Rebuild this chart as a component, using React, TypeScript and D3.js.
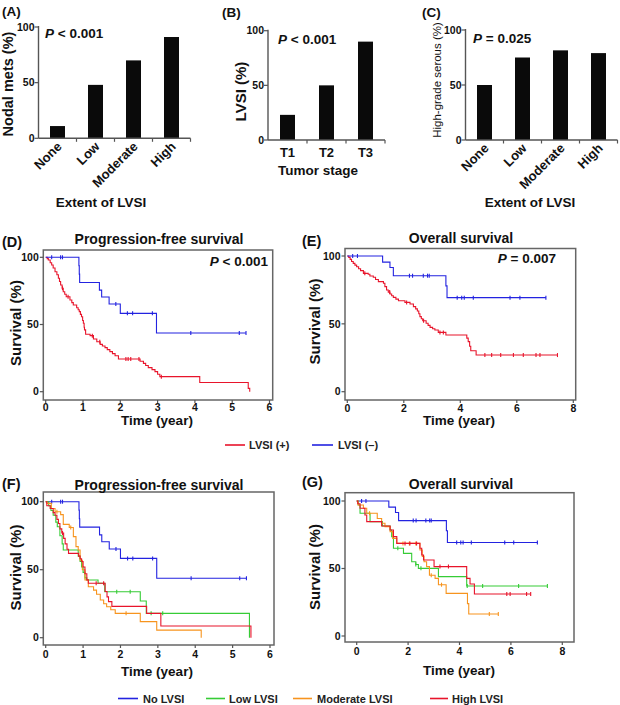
import React from "react";
import * as d3 from "d3";

const FONT = "'Liberation Sans', Arial, Helvetica, sans-serif";
const RED = "#e8142b";
const BLUE = "#2323e0";
const GREEN = "#36cc36";
const ORANGE = "#f7941e";
const AXIS = "#555";

// ---------- Bar panels ----------
const extentCategories = ["None", "Low", "Moderate", "High"];
const nodalMetsPct = [11, 48, 70, 91];
const stageCategories = ["T1", "T2", "T3"];
const lvsiByStagePct = [23, 50, 90];
const highGradeSerousPct = [50, 75, 81.5, 79];
const barYTicks = [0, 50, 100];

// ---------- Kaplan-Meier data: [time (year), survival % after step] ----------
type Step = [number, number];

const pfsLvsiNeg: Step[] = [[0, 100], [0.89, 93.8], [0.9, 87.5], [0.91, 81.3], [1.44, 75.6], [1.5, 70.5], [1.7, 65.2], [2.0, 58.3], [2.97, 43.7], [5.37, 43.7]];
const pfsLvsiNegCens = [0.16, 0.4, 0.45, 1.88, 2.19, 2.33, 2.86, 3.89, 5.19, 5.37];

const pfsLvsiPos: Step[] = [[0, 100], [0.04, 99], [0.07, 98], [0.12, 96], [0.16, 94.3], [0.2, 92], [0.25, 89.3], [0.3, 87], [0.34, 84.4], [0.37, 82], [0.4, 79.4], [0.44, 77], [0.47, 74.4], [0.51, 72.5], [0.55, 70.7], [0.65, 68.2], [0.7, 66.3], [0.74, 64.5], [0.83, 62.5], [0.87, 61], [0.9, 59.6], [0.93, 57.5], [0.96, 55.8], [0.99, 53], [1.01, 50.9], [1.03, 48], [1.04, 46], [1.07, 42.7], [1.19, 41.7], [1.28, 39.2], [1.37, 37.2], [1.46, 35.2], [1.52, 34], [1.59, 32.8], [1.65, 31.3], [1.72, 29.8], [1.79, 28.3], [1.86, 26.8], [1.95, 24.3], [2.53, 22.7], [2.62, 21.1], [2.68, 19.5], [2.75, 17.9], [2.85, 16.4], [2.93, 14.9], [3.0, 13], [3.06, 11.2], [4.13, 6.9], [5.43, 2.5], [5.47, 0]];
const pfsLvsiPosCens = [0.45, 0.6, 1.25, 1.45, 2.15, 2.21, 2.28, 2.5, 3.1];

const osLvsiNeg: Step[] = [[0, 100], [1.25, 95.5], [1.51, 91.5], [1.63, 85.5], [3.49, 78], [3.53, 69.3], [7.03, 69.3]];
const osLvsiNegCens = [0.19, 0.36, 2.2, 2.31, 2.69, 2.84, 2.9, 3.89, 4.05, 4.14, 4.46, 5.76, 6.11, 7.03];

const osLvsiPos: Step[] = [[0, 100], [0.05, 99], [0.1, 97.5], [0.15, 96], [0.21, 94.6], [0.27, 93.3], [0.33, 92.1], [0.4, 90.6], [0.47, 89.2], [0.57, 87.2], [0.74, 86.5], [0.8, 85.3], [0.92, 84.3], [1.0, 82.7], [1.1, 81.1], [1.28, 79.9], [1.33, 77.4], [1.39, 74.9], [1.45, 73.4], [1.51, 72], [1.57, 70.7], [1.63, 69.5], [1.72, 68.2], [1.81, 67], [2.04, 65.8], [2.22, 64.6], [2.34, 62.7], [2.42, 61], [2.48, 59.5], [2.53, 57.4], [2.57, 55.3], [2.62, 53.8], [2.67, 52.3], [2.79, 50.4], [2.86, 48.9], [2.93, 47.4], [3.02, 46.4], [3.1, 45.5], [3.22, 43.7], [3.49, 41.8], [4.23, 39.5], [4.28, 36.9], [4.33, 33.5], [4.37, 30.2], [4.56, 27], [7.44, 27]];
const osLvsiPosCens = [0.62, 1.5, 2.1, 2.7, 3.28, 3.4, 4.87, 5.11, 5.43, 5.88, 6.23, 6.68, 6.82, 7.44];

const pfsLow: Step[] = [[0, 100], [0.08, 97], [0.14, 93.5], [0.2, 90], [0.27, 85], [0.31, 81.6], [0.38, 75], [0.44, 69], [0.47, 64.5], [0.87, 60], [0.92, 56], [0.96, 52], [1.0, 48], [1.05, 44], [1.1, 42.4], [1.4, 40], [1.58, 33.8], [2.53, 27], [2.69, 17.9], [5.45, 0]];
const pfsLowCens = [1.9, 2.26, 2.82, 3.13];

const pfsModerate: Step[] = [[0, 100], [0.03, 98.8], [0.15, 95], [0.25, 92.6], [0.4, 90.5], [0.47, 83.3], [0.63, 81], [0.74, 74.3], [0.81, 67], [0.87, 64.5], [0.92, 57], [0.98, 50], [1.05, 42.4], [1.14, 37.5], [1.28, 35], [1.36, 32], [1.46, 27.7], [1.55, 25], [1.63, 22.8], [1.74, 20.5], [1.86, 17.9], [2.53, 11.8], [2.97, 5.6], [4.16, 0]];
const pfsModerateCens = [0.3, 0.67, 2.15];

const pfsHigh: Step[] = [[0, 100], [0.03, 97], [0.12, 95], [0.2, 92], [0.25, 90], [0.3, 87], [0.34, 84], [0.38, 80], [0.43, 77], [0.48, 73], [0.52, 69], [0.57, 65], [0.61, 62], [0.88, 60], [0.92, 58], [0.96, 56], [1.0, 52], [1.05, 47], [1.1, 42.5], [1.14, 40], [1.59, 34], [1.64, 30], [1.68, 26.5], [1.77, 23], [2.7, 17.9], [3.08, 8.6], [5.49, 0]];
const pfsHighCens = [0.45, 1.35, 1.55];

const osLow: Step[] = [[0, 100], [0.065, 97], [0.13, 90.9], [0.52, 84.7], [1.0, 81.5], [1.3, 78.5], [1.36, 73.6], [1.43, 65], [1.82, 61.2], [2.14, 55], [2.3, 53], [2.4, 50.1], [3.18, 44], [4.28, 37], [7.42, 37]];
const osLowCens = [1.6, 2.3, 2.5, 4.3, 4.9, 6.3, 7.42];

const osModerate: Step[] = [[0, 100], [0.05, 97], [0.26, 94.6], [0.39, 90.9], [0.8, 87], [0.97, 83.5], [1.1, 81], [1.3, 77.3], [1.4, 72.3], [1.56, 68.6], [2.46, 63.7], [2.55, 59], [2.62, 55], [2.72, 51.4], [2.83, 45], [3.05, 42.7], [3.18, 38], [3.48, 31.6], [4.31, 24], [4.36, 16.3], [5.51, 16.3]];
const osModerateCens = [0.5, 1.8, 2.05, 2.3, 2.9, 3.3, 5.16, 5.51];

const osHigh: Step[] = [[0, 100], [0.04, 98], [0.13, 94.6], [0.32, 89.6], [0.39, 84.7], [0.97, 81.5], [1.3, 78.5], [1.43, 73.6], [1.56, 68.6], [2.46, 65], [2.53, 60], [2.6, 56.3], [3.01, 51.4], [4.28, 42.7], [4.41, 38.5], [4.58, 31.1], [6.77, 31.1]];
const osHighCens = [1.88, 2.07, 2.33, 3.24, 3.57, 5.84, 5.97, 6.61, 6.77];

const pfsTicks = [0, 1, 2, 3, 4, 5, 6];
const osTicks = [0, 2, 4, 6, 8];
const survTicks = [0, 50, 100];

function survAt(pts: Step[], t: number) {
  let s = 100;
  for (const [tt, v] of pts) if (tt <= t) s = v;
  return s;
}

function PText({ x, y, rest, anchor = "start" }: any) {
  return (
    <text x={x} y={y} fontFamily={FONT} fontWeight="bold" fontSize={13.5} textAnchor={anchor} fill="#111">
      <tspan fontStyle="italic">P</tspan>
      <tspan>{rest}</tspan>
    </text>
  );
}

function BarPanel(p: any) {
  const x = d3.scalePoint<string>().domain(p.cats).range(p.xRange).padding(0.5);
  const y = d3.scaleLinear().domain([0, 100]).range(p.yRange);
  const step = x.step();
  const y0 = y(0);
  return (
    <g>
      {p.cats.map((c: string, i: number) => (
        <rect key={c} x={(x(c) as number) - p.barW / 2} y={y(p.vals[i])} width={p.barW} height={y0 - y(p.vals[i])} fill="#0a0a0a" />
      ))}
      <line x1={p.xRange[0]} x2={p.xRange[0]} y1={y(100) - 1} y2={y0} stroke={AXIS} strokeWidth={1.4} />
      <line x1={p.xRange[0]} x2={p.xRange[1]} y1={y0} y2={y0} stroke={AXIS} strokeWidth={1.4} />
      {barYTicks.map((t) => (
        <g key={t}>
          <line x1={p.xRange[0] - 4} x2={p.xRange[0]} y1={y(t)} y2={y(t)} stroke={AXIS} strokeWidth={1.2} />
          <text x={p.xRange[0] - 4} y={y(t)} dy="0.35em" textAnchor="end" fontFamily={FONT} fontWeight="bold" fontSize={10.5} fill="#111">{t}</text>
        </g>
      ))}
      {p.cats.map((c: string) => (
        <line key={"t" + c} x1={(x(c) as number) + step / 2} x2={(x(c) as number) + step / 2} y1={y0} y2={y0 + 3.5} stroke={AXIS} strokeWidth={1.2} />
      ))}
      {p.cats.map((c: string) => {
        const cx = x(c) as number;
        if (p.rotate) {
          const ax = cx + 5;
          const ay = y0 + 9;
          return (
            <text key={"l" + c} x={ax} y={ay} transform={`rotate(-45 ${ax} ${ay})`} textAnchor="end" fontFamily={FONT} fontWeight="bold" fontSize={13} fill="#111">{c}</text>
          );
        }
        return (
          <text key={"l" + c} x={cx} y={p.tickLabelY} textAnchor="middle" fontFamily={FONT} fontWeight="bold" fontSize={13} fill="#111">{c}</text>
        );
      })}
    </g>
  );
}

function KMPanel(p: any) {
  const x = d3.scaleLinear().domain([p.xTicks[0], p.xTicks[p.xTicks.length - 1]]).range(p.xRange);
  const y = d3.scaleLinear().domain([0, 100]).range(p.yRange);
  const line = d3.line<Step>().x((d) => x(d[0])).y((d) => y(d[1])).curve(d3.curveStepAfter);
  const [l, t, r, b] = p.box;
  return (
    <g>
      <rect x={l} y={t} width={r - l} height={b - t} fill="none" stroke="#666" strokeWidth={1.5} />
      {survTicks.map((v) => (
        <g key={v}>
          <line x1={l - 3.5} x2={l} y1={y(v)} y2={y(v)} stroke="#555" strokeWidth={1.2} />
          <text x={l - 4.5} y={y(v)} dy="0.35em" textAnchor="end" fontFamily={FONT} fontWeight="bold" fontSize={10.5} fill="#111">{v}</text>
        </g>
      ))}
      {p.xTicks.map((v: number) => (
        <g key={v}>
          <line x1={x(v)} x2={x(v)} y1={b} y2={b + 3} stroke="#555" strokeWidth={1.2} />
          <text x={x(v)} y={p.tickLabelY} textAnchor="middle" fontFamily={FONT} fontWeight="bold" fontSize={10.5} fill="#111">{v}</text>
        </g>
      ))}
      {p.curves.map((c: any, i: number) => (
        <g key={i}>
          <path d={line(c.pts) || ""} fill="none" stroke={c.color} strokeWidth={1.1} />
          {c.cens.map((ct: number, j: number) => {
            const cy = y(survAt(c.pts, ct));
            return <line key={j} x1={x(ct)} x2={x(ct)} y1={cy - 2} y2={cy + 2} stroke={c.color} strokeWidth={1.1} />;
          })}
        </g>
      ))}
      <text x={p.titleX} y={p.titleY} textAnchor="middle" fontFamily={FONT} fontWeight="bold" fontSize={14} fill="#111">{p.title}</text>
      <text x={p.labelX} y={p.labelY} fontFamily={FONT} fontWeight="bold" fontSize={14.5} fill="#111">{p.label}</text>
      <text x={p.titleX - 2} y={p.xTitleY} textAnchor="middle" fontFamily={FONT} fontWeight="bold" fontSize={13.5} fill="#111">Time (year)</text>
      <text x={p.yTitleX} y={p.yTitleY} transform={`rotate(-90 ${p.yTitleX} ${p.yTitleY})`} textAnchor="middle" fontFamily={FONT} fontWeight="bold" fontSize={15} fill="#111">Survival (%)</text>
      {p.pRest && <PText x={p.pX} y={p.pY} rest={p.pRest} anchor={p.pAnchor} />}
    </g>
  );
}

function Legend({ items, y }: any) {
  return (
    <g>
      {items.map((it: any) => (
        <g key={it.label}>
          <line x1={it.x0} x2={it.x1} y1={y} y2={y} stroke={it.color} strokeWidth={1.6} />
          <text x={it.tx} y={y + 4} fontFamily={FONT} fontWeight="bold" fontSize={11} fill="#222">{it.label}</text>
        </g>
      ))}
    </g>
  );
}

export default function App() {
  return (
    <svg width={620} height={705} viewBox="0 0 620 705" style={{ position: "absolute", left: 0, top: 0, background: "#fff" }}>
      <rect width={620} height={705} fill="#fff" />
      {/* (A) */}
      <text x={2} y={16} fontFamily={FONT} fontWeight="bold" fontSize={13.5} fill="#111">(A)</text>
      <BarPanel cats={extentCategories} vals={nodalMetsPct} xRange={[38.5, 190.5]} yRange={[138.3, 27]} barW={15} rotate />
      <PText x={45} y={38} rest=" < 0.001" />
      <text x={13} y={84} transform="rotate(-90 13 84)" textAnchor="middle" fontFamily={FONT} fontWeight="bold" fontSize={14.5} fill="#111">Nodal mets (%)</text>
      <text x={101} y={207} textAnchor="middle" fontFamily={FONT} fontWeight="bold" fontSize={13.5} fill="#111">Extent of LVSI</text>

      {/* (B) */}
      <text x={222} y={16.5} fontFamily={FONT} fontWeight="bold" fontSize={13.5} fill="#111">(B)</text>
      <BarPanel cats={stageCategories} vals={lvsiByStagePct} xRange={[268, 385]} yRange={[140, 30.7]} barW={15} tickLabelY={157} />
      <PText x={278} y={44} rest=" < 0.001" />
      <text x={246} y={91.5} transform="rotate(-90 246 91.5)" textAnchor="middle" fontFamily={FONT} fontWeight="bold" fontSize={15} fill="#111">LVSI (%)</text>
      <text x={318} y={175} textAnchor="middle" fontFamily={FONT} fontWeight="bold" fontSize={13.5} fill="#111">Tumor stage</text>

      {/* (C) */}
      <text x={422} y={16.5} fontFamily={FONT} fontWeight="bold" fontSize={13.5} fill="#111">(C)</text>
      <BarPanel cats={extentCategories} vals={highGradeSerousPct} xRange={[465.5, 617.5]} yRange={[140, 30]} barW={15} rotate />
      <PText x={473} y={42.5} rest=" = 0.025" />
      <text x={441} y={80} transform="rotate(-90 441 80)" textAnchor="middle" fontFamily={FONT} fontSize={11.5} fill="#111">High-grade serous (%)</text>
      <text x={530} y={207} textAnchor="middle" fontFamily={FONT} fontWeight="bold" fontSize={13.5} fill="#111">Extent of LVSI</text>

      {/* (D) */}
      <KMPanel label="(D)" labelX={2} labelY={247} title="Progression-free survival" titleX={159} titleY={244}
        box={[43.3, 250, 272.7, 400]} xRange={[45.7, 269.5]} yRange={[391.7, 257.3]} xTicks={pfsTicks}
        tickLabelY={411} xTitleY={425} yTitleX={21} yTitleY={323}
        pRest=" < 0.001" pX={268} pY={265.5} pAnchor="end"
        curves={[{ pts: pfsLvsiPos, cens: pfsLvsiPosCens, color: RED }, { pts: pfsLvsiNeg, cens: pfsLvsiNegCens, color: BLUE }]} />

      {/* (E) */}
      <KMPanel label="(E)" labelX={302} labelY={246} title="Overall survival" titleX={461} titleY={243}
        box={[345, 248.5, 575.7, 400]} xRange={[347.3, 573.3]} yRange={[391.7, 256]} xTicks={osTicks}
        tickLabelY={412} xTitleY={425} yTitleX={320} yTitleY={321.5}
        pRest=" = 0.007" pX={556} pY={263} pAnchor="end"
        curves={[{ pts: osLvsiPos, cens: osLvsiPosCens, color: RED }, { pts: osLvsiNeg, cens: osLvsiNegCens, color: BLUE }]} />

      <Legend y={445} items={[
        { label: "LVSI (+)", color: RED, x0: 225, x1: 245, tx: 249 },
        { label: "LVSI (\u2013)", color: BLUE, x0: 312, x1: 333, tx: 338 },
      ]} />

      {/* (F) */}
      <KMPanel label="(F)" labelX={2} labelY={489} title="Progression-free survival" titleX={159} titleY={490}
        box={[43.3, 492, 274, 645]} xRange={[45.7, 270]} yRange={[637.7, 501.7]} xTicks={pfsTicks}
        tickLabelY={657.5} xTitleY={676} yTitleX={21} yTitleY={567.5}
        curves={[
          { pts: pfsLvsiNeg, cens: pfsLvsiNegCens, color: BLUE },
          { pts: pfsLow, cens: pfsLowCens, color: GREEN },
          { pts: pfsModerate, cens: pfsModerateCens, color: ORANGE },
          { pts: pfsHigh, cens: pfsHighCens, color: RED },
        ]} />

      {/* (G) */}
      <KMPanel label="(G)" labelX={302} labelY={487} title="Overall survival" titleX={461} titleY={489}
        box={[345, 492.7, 574, 642]} xRange={[356.7, 562.3]} yRange={[636, 501]} xTicks={osTicks}
        tickLabelY={655} xTitleY={675} yTitleX={320} yTitleY={567}
        curves={[
          { pts: osLvsiNeg, cens: osLvsiNegCens, color: BLUE },
          { pts: osLow, cens: osLowCens, color: GREEN },
          { pts: osModerate, cens: osModerateCens, color: ORANGE },
          { pts: osHigh, cens: osHighCens, color: RED },
        ]} />

      <Legend y={698.5} items={[
        { label: "No LVSI", color: BLUE, x0: 118, x1: 138, tx: 143 },
        { label: "Low LVSI", color: GREEN, x0: 206, x1: 225, tx: 229 },
        { label: "Moderate LVSI", color: ORANGE, x0: 293, x1: 312, tx: 317 },
        { label: "High LVSI", color: RED, x0: 430, x1: 448, tx: 452 },
      ]} />
    </svg>
  );
}
